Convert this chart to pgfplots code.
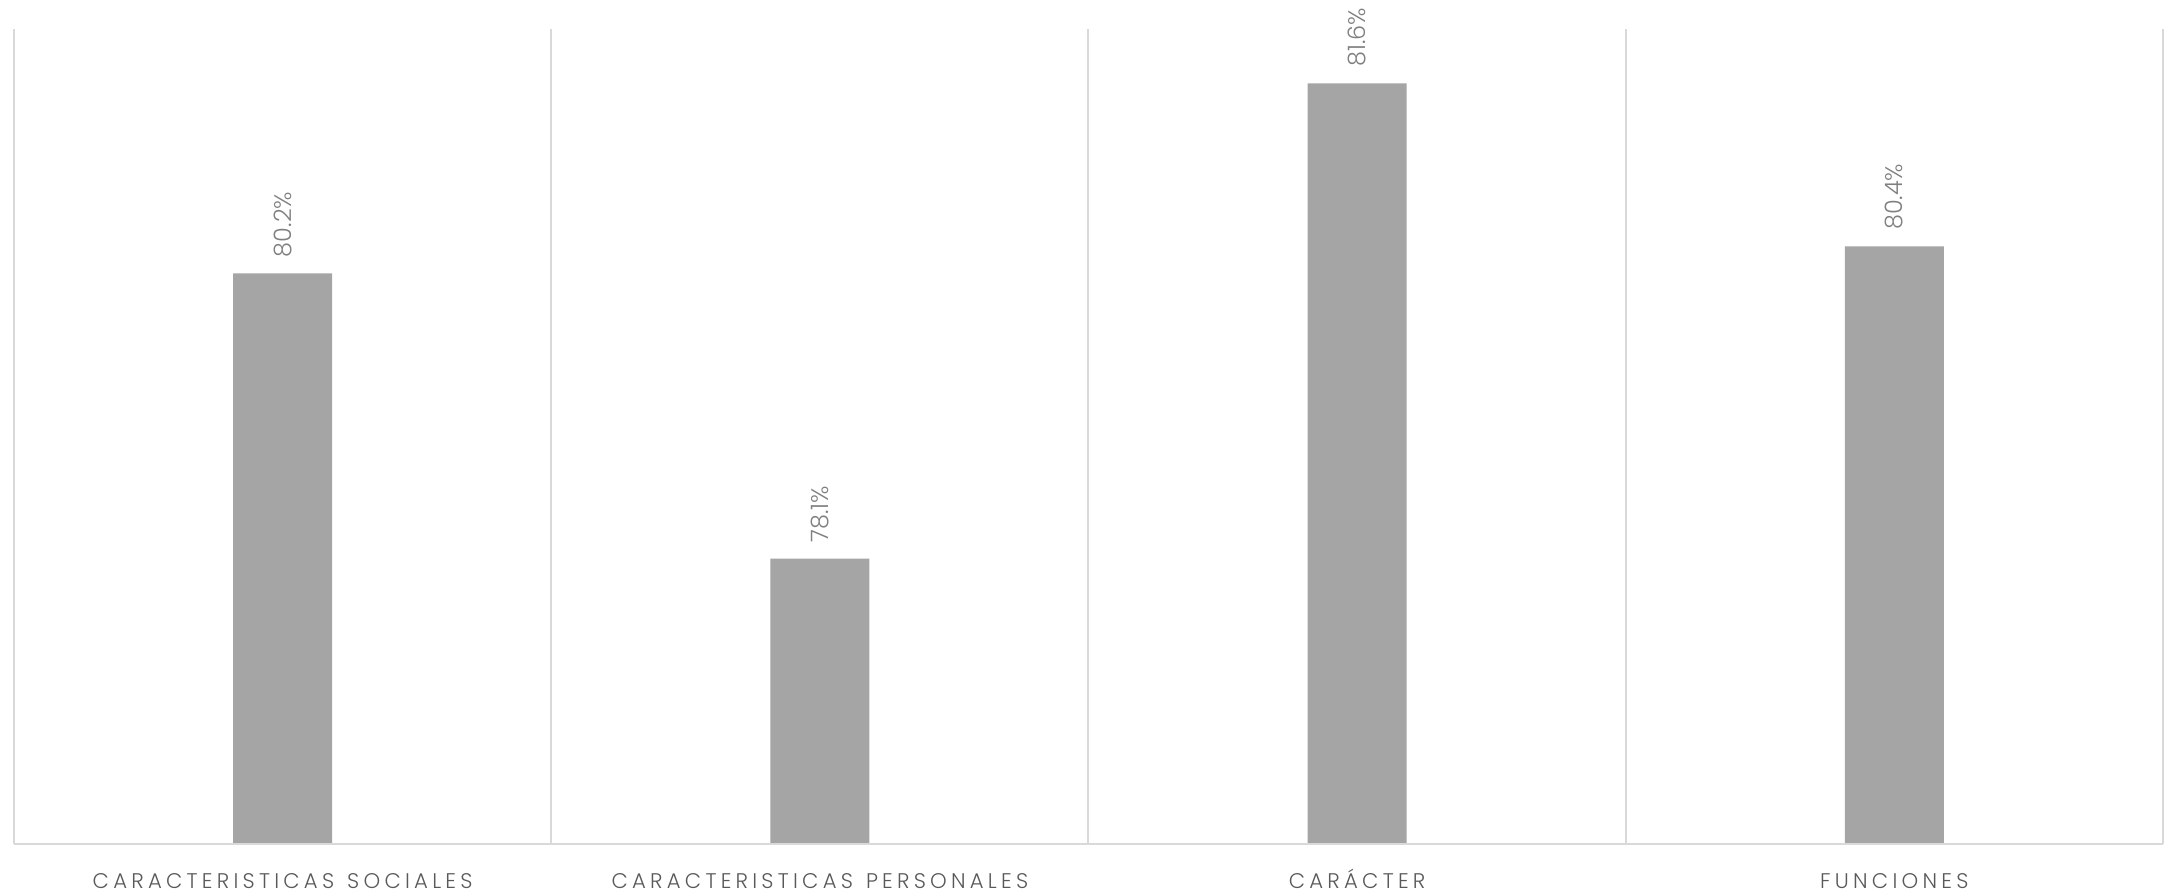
\documentclass[border=0pt]{standalone}
\usepackage{fontspec}
\setmainfont{Poppins}[UprightFont={* Light}]
\usepackage{pgfplots}
\pgfplotsset{compat=1.18}
\definecolor{barc}{HTML}{A5A5A5}
\definecolor{gridc}{HTML}{D9D9D9}
\definecolor{tickc}{HTML}{595959}
\definecolor{labc}{HTML}{7F7F7F}
\newfontfamily\tickfont{Poppins}[UprightFont={* Light},LetterSpace=20,WordSpace=1.3]
\begin{document}
\begin{tikzpicture}
\path[use as bounding box] (-7pt,-24.5pt) rectangle (1075.5pt,422pt);
\begin{axis}[
  at={(0pt,0pt)}, anchor=south west,
  scale only axis,
  width=1074.5pt, height=407.5pt,
  xmin=-0.5, xmax=3.5, ymin=76, ymax=82,
  axis line style={draw=none},
  ytick=\empty,
  xtick={0,1,2,3},
  xticklabels={CARACTERISTICAS SOCIALES, CARACTERISTICAS PERSONALES, CARÁCTER, FUNCIONES},
  xticklabel style={font=\tickfont\fontsize{10.6}{12}\selectfont, text=tickc, text height=10pt, text depth=0pt, anchor=north, yshift=-8.5pt},
  major tick length=0pt,
  minor xtick={-0.5,0.5,1.5,2.5,3.5},
  xminorgrids,
  minor grid style={draw=gridc, line width=1pt},
  minor tick length=0pt,
  ybar,
  bar width=49.5pt,
  clip=false,
  point meta=explicit symbolic,
  nodes near coords,
  nodes near coords style={rotate=90, anchor=west, inner xsep=8pt, inner ysep=0pt, text=labc, font=\fontsize{12}{14}\selectfont},
]
\addplot[fill=barc, draw=none] coordinates {(0,80.2) [80.2\%] (1,78.1) [78.1\%] (2,81.6) [81.6\%] (3,80.4) [80.4\%]};
\draw[gridc, line width=1pt] (rel axis cs:0,0) -- (rel axis cs:1,0);
\end{axis}
\end{tikzpicture}
\end{document}
